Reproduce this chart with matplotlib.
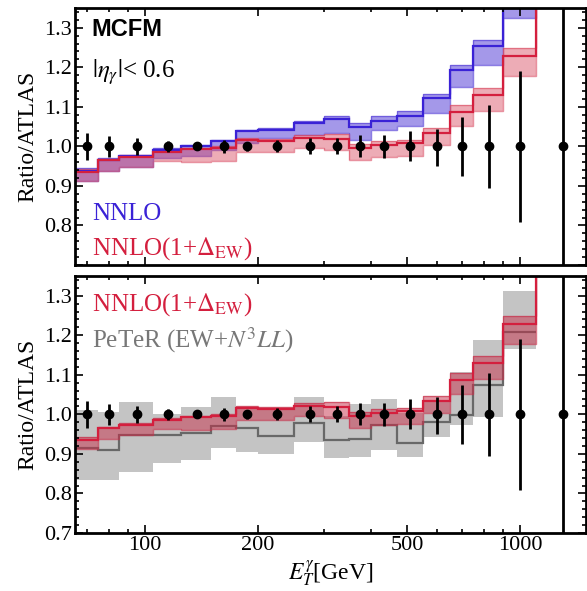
import numpy as np
import matplotlib.pyplot as plt

plt.rcParams['font.family'] = ['Liberation Serif', 'DejaVu Serif']
plt.rcParams['mathtext.fontset'] = 'stix'

# bin edges (GeV) and ATLAS points
edges = [65, 75, 85, 105, 125, 150, 175, 200, 250, 300, 350, 400, 470,
         550, 650, 750, 900, 1100, 1500]
x_data = [70, 80, 95, 115, 137.5, 162.5, 187.5, 225, 275, 325, 375, 435,
          510, 600, 700, 825, 1000, 1300]
y_data = [1.0] * 18
err_up = [0.035, 0.027, 0.021, 0.013, 0.008, 0.017, 0.012, 0.015, 0.02,
          0.02, 0.028, 0.03, 0.038, 0.045, 0.075, 0.105, 0.19, 0.8]
err_dn = [0.035, 0.027, 0.021, 0.013, 0.008, 0.017, 0.012, 0.015, 0.02,
          0.02, 0.028, 0.03, 0.038, 0.05, 0.075, 0.105, 0.19, 0.8]

# NNLO
nnlo = [0.938, 0.966, 0.975, 0.992, 1.0, 1.013, 1.038, 1.042, 1.059, 1.068,
        1.048, 1.065, 1.078, 1.122, 1.192, 1.253, 1.38, 1.6]
nnlo_lo = [0.913, 0.937, 0.949, 0.97, 0.976, 0.992, 1.008, 1.02, 1.03, 1.034,
           1.017, 1.042, 1.051, 1.084, 1.149, 1.207, 1.325, 1.5]
nnlo_hi = [0.945, 0.97, 0.979, 0.995, 1.004, 1.017, 1.042, 1.046, 1.064, 1.076,
           1.059, 1.076, 1.089, 1.132, 1.207, 1.27, 1.45, 1.7]

# NNLO(1+dEW)
nnloew = [0.936, 0.965, 0.974, 0.986, 0.993, 0.997, 1.017, 1.014, 1.022,
          1.018, 0.996, 1.004, 1.008, 1.035, 1.087, 1.13, 1.228, 1.45]
nnloew_lo = [0.913, 0.937, 0.949, 0.962, 0.96, 0.963, 0.986, 0.986, 0.995,
             0.991, 0.966, 0.972, 0.975, 1.004, 1.051, 1.09, 1.178, 1.38]
nnloew_hi = [0.943, 0.969, 0.978, 0.99, 0.997, 1.0, 1.021, 1.018, 1.03,
             1.031, 1.005, 1.013, 1.017, 1.046, 1.104, 1.148, 1.25, 1.52]

# PeTeR (EW+N3LL)
peter = [0.914, 0.911, 0.948, 0.948, 0.954, 0.971, 0.966, 0.946, 0.977,
         0.935, 0.939, 0.973, 0.928, 0.981, 0.998, 1.074, 1.209]
peter_lo = [0.835, 0.835, 0.855, 0.878, 0.884, 0.914, 0.905, 0.901, 0.931,
            0.889, 0.893, 0.911, 0.891, 0.943, 0.973, 0.994, 1.165]
peter_hi = [1.011, 1.007, 1.032, 1.0, 1.019, 1.045, 1.015, 1.015, 1.043,
            0.996, 1.026, 1.04, 1.004, 1.032, 1.108, 1.188, 1.313]

blue = '#3a22d6'
red = '#d41f3e'
grey_line = '#686868'

W, H = 587, 591
fig = plt.figure(figsize=(W / 100, H / 100), dpi=100)
ax1 = fig.add_axes([75 / W, 1 - 265 / H, 511 / W, 257 / H])
ax2 = fig.add_axes([75 / W, 1 - 533 / H, 511 / W, 257 / H])


def band(ax, lo, hi, c, ed, alpha):
    ax.stairs(hi, ed, baseline=lo, fill=True, color=c, alpha=alpha, lw=0)
    ax.stairs(hi, ed, baseline=None, color=c, alpha=alpha + 0.15, lw=1.0)
    ax.stairs(lo, ed, baseline=None, color=c, alpha=alpha + 0.15, lw=1.0)


def points(ax):
    ax.errorbar(x_data, y_data, yerr=[err_dn, err_up], fmt='o', color='black',
                ms=6, elinewidth=2, capsize=0, zorder=10, clip_on=True)


# top panel
band(ax1, nnlo_lo, nnlo_hi, '#5a44d8', edges, 0.55)
band(ax1, nnloew_lo, nnloew_hi, '#d9485f', edges, 0.45)
ax1.stairs(nnlo, edges, baseline=None, color=blue, lw=1.6)
ax1.stairs(nnloew, edges, baseline=None, color=red, lw=1.6)
points(ax1)

# bottom panel
pe = edges[:len(peter) + 1]
ax2.stairs(peter_hi, pe, baseline=peter_lo, fill=True, color='#c4c4c4', lw=0)
ax2.stairs(peter, pe, baseline=None, color=grey_line, lw=1.6)
band(ax2, nnloew_lo, nnloew_hi, '#c7304a', edges, 0.5)
ax2.stairs(nnloew, edges, baseline=None, color=red, lw=1.6)
points(ax2)

for ax in (ax1, ax2):
    ax.set_xscale('log')
    ax.set_xlim(65, 1500)
    ax.set_ylim(0.7, 1.35)
    ax.set_xticks([100, 200, 500, 1000])
    ax.set_xticklabels(['100', '200', '500', '1000'])
    ax.set_yticks([0.7, 0.8, 0.9, 1.0, 1.1, 1.2, 1.3])
    ax.set_yticklabels(['0.7', '0.8', '0.9', '1.0', '1.1', '1.2', '1.3'])
    ax.set_yticks(np.arange(0.7, 1.35, 0.02), minor=True)
    ax.tick_params(which='both', direction='in', top=True, right=True,
                   labelsize=16, width=1.2, pad=2)
    ax.tick_params(which='major', length=6)
    ax.tick_params(which='minor', length=3)
    for s in ax.spines.values():
        s.set_linewidth(2)
    ax.set_ylabel('Ratio/ATLAS', fontsize=17, labelpad=4)

ax1.tick_params(labelbottom=False)
ax1.yaxis.get_major_ticks()[0].label1.set_visible(False)
ax2.set_xlabel(r'$E_T^{\gamma}$[GeV]', fontsize=17, labelpad=2)

ax1.text(0.033, 0.915, 'MCFM', transform=ax1.transAxes, fontsize=17,
         fontweight='bold', family='Liberation Sans', va='center')
ax1.text(0.033, 0.75, r'$|\eta_\gamma|$< 0.6', transform=ax1.transAxes,
         fontsize=18, va='center')
ax1.text(0.033, 0.2, 'NNLO', transform=ax1.transAxes, fontsize=18,
         color=blue, va='center')
ax1.text(0.033, 0.065, r'NNLO(1+$\Delta_{\rm EW}$)', transform=ax1.transAxes,
         fontsize=18, color=red, va='center')
ax2.text(0.033, 0.89, r'NNLO(1+$\Delta_{\rm EW}$)', transform=ax2.transAxes,
         fontsize=18, color=red, va='center')
ax2.text(0.033, 0.75, r'PeTeR (EW+$N^3LL$)', transform=ax2.transAxes,
         fontsize=18, color='#777777', va='center')

fig.savefig('out.png', dpi=100)
